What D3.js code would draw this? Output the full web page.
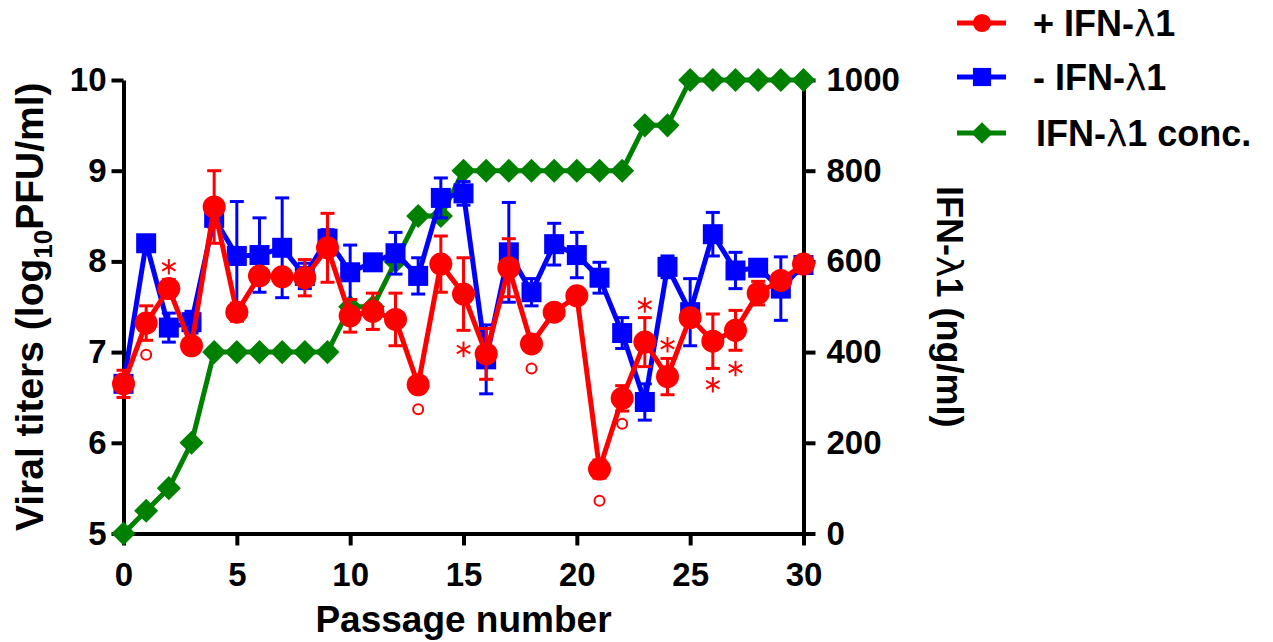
<!DOCTYPE html>
<html>
<head>
<meta charset="utf-8">
<script src="https://cdn.jsdelivr.net/npm/d3@7"></script>
<style>
  body { margin: 0; background: #fff; }
  svg { display: block; font-family: "Liberation Sans", Arial, sans-serif; }
</style>
</head>
<body>
<div id="chart"></div>
<script>
/* Viral titers over passages, with and without IFN-lambda1, plus IFN concentration */

const passages = d3.range(0, 31);

// + IFN-λ1 (log10 PFU/ml) and error
const plusIFN = [6.65, 7.32, 7.70, 7.07, 8.60, 7.44, 7.84, 7.83, 7.82, 8.15,
                 7.40, 7.45, 7.36, 6.64, 7.97, 7.64, 6.98, 7.93, 7.09, 7.44,
                 7.62, 5.71, 6.49, 7.11, 6.73, 7.38, 7.12, 7.24, 7.65, 7.79, 7.97];
const plusErr = [0.15, 0.19, 0.10, 0, 0.40, 0.10, 0, 0, 0.20, 0.38,
                 0.18, 0.20, 0.29, 0, 0.31, 0.40, 0.28, 0.32, 0, 0,
                 0, 0.10, 0.14, 0.27, 0.20, 0, 0.30, 0.22, 0.13, 0, 0];

// - IFN-λ1
const minusIFN = [6.65, 8.20, 7.27, 7.33, 8.48, 8.06, 8.07, 8.15, 7.84, 8.25,
                  7.88, 7.99, 8.09, 7.84, 8.70, 8.75, 6.92, 8.10, 7.66, 8.19,
                  8.07, 7.82, 7.21, 6.45, 7.94, 7.44, 8.30, 7.90, 7.93, 7.70, 7.96];
const minusErr = [0.05, 0.05, 0.16, 0.12, 0.10, 0.60, 0.41, 0.55, 0.14, 0.10,
                  0.30, 0, 0.23, 0.20, 0.22, 0.13, 0.38, 0.55, 0.15, 0.23,
                  0.25, 0.17, 0.17, 0.20, 0.12, 0.37, 0.24, 0.20, 0, 0.35, 0];

// IFN-λ1 concentration (ng/ml)
const conc = [0, 50, 100, 200, 400, 400, 400, 400, 400, 400,
              500, 500, 600, 700, 700, 800, 800, 800, 800, 800,
              800, 800, 800, 900, 900, 1000, 1000, 1000, 1000, 1000, 1000];

// significance marks: passage and titer level where drawn
const circlePassage = [1, 13, 18, 21, 22];
const circleLevel   = [6.97, 6.37, 6.82, 5.36, 6.21];
const starPassage   = [2, 15, 23, 24, 26, 27];
const starLevel     = [7.94, 7.03, 7.52, 7.08, 6.64, 6.82];

const leftTicks = [5, 6, 7, 8, 9, 10];
const rightTicks = [0, 200, 400, 600, 800, 1000];
const xTicks = [0, 5, 10, 15, 20, 25, 30];

const width = 1273, height = 642;
const margin = { top: 80, right: 469.5, bottom: 108.5, left: 123.5 };

const RED = "#ff0000", BLUE = "#0000ff", GREEN = "#008000";

const svg = d3.select("#chart")
  .append("svg")
  .attr("width", width)
  .attr("height", height)
  .attr("viewBox", [0, 0, width, height]);

const x = d3.scaleLinear().domain([0, 30]).range([margin.left, width - margin.right]);
const y = d3.scaleLinear().domain([5, 10]).range([height - margin.bottom, margin.top]);
const y2 = d3.scaleLinear().domain([0, 1000]).range([height - margin.bottom, margin.top]);

function styleAxis(g) {
  g.select(".domain").attr("stroke", "#000").attr("stroke-width", 4);
  g.selectAll(".tick line").attr("stroke", "#000").attr("stroke-width", 4);
  g.selectAll(".tick text")
    .attr("fill", "#000")
    .style("font-size", "33px")
    .style("font-weight", "bold");
}

const fmt = d3.format("d");

svg.append("g")
  .attr("transform", `translate(${margin.left},0)`)
  .call(d3.axisLeft(y).tickValues(leftTicks).tickFormat(fmt).tickSize(12).tickSizeOuter(0).tickPadding(5))
  .call(styleAxis);

svg.append("g")
  .attr("transform", `translate(${width - margin.right},0)`)
  .call(d3.axisRight(y2).tickValues(rightTicks).tickFormat(fmt).tickSize(12).tickSizeOuter(0).tickPadding(11))
  .call(styleAxis);

svg.append("g")
  .attr("transform", `translate(0,${height - margin.bottom})`)
  .call(d3.axisBottom(x).tickValues(xTicks).tickFormat(fmt).tickSize(12).tickSizeOuter(0).tickPadding(17))
  .call(styleAxis)
  .call(g => g.selectAll(".tick text").attr("dy", "0.71em"));

// axis titles
svg.append("text")
  .attr("x", (x(0) + x(30)) / 2)
  .attr("y", 632)
  .attr("text-anchor", "middle")
  .style("font-size", "37px")
  .style("font-weight", "bold")
  .text("Passage number");

const yl = svg.append("text")
  .attr("transform", `translate(43,${(y(5) + y(10)) / 2}) rotate(-90)`)
  .attr("text-anchor", "middle")
  .style("font-size", "39px")
  .style("font-weight", "bold");
yl.append("tspan").text("Viral titers (log");
yl.append("tspan").attr("dy", 9).style("font-size", "26px").text("10");
yl.append("tspan").attr("dy", -9).text("PFU/ml)");

// text with a lighter lambda glyph
function lambdaText(sel, str) {
  const parts = str.split("λ");
  parts.forEach((p, i) => {
    if (i > 0) sel.append("tspan")
      .style("font-family", "'DejaVu Sans', sans-serif")
      .style("font-weight", "normal")
      .text("λ");
    if (p) sel.append("tspan").text(p);
  });
}

const yr = svg.append("text")
  .attr("transform", `translate(937,${(y2(0) + y2(1000)) / 2}) rotate(90)`)
  .attr("text-anchor", "middle")
  .style("font-size", "36px")
  .style("font-weight", "bold");
lambdaText(yr, "IFN-λ1 (ng/ml)");

// series
const green = passages.map((p, i) => ({ p, v: conc[i] }));
const blue = passages.map((p, i) => ({ p, v: minusIFN[i], e: minusErr[i] }));
const red = passages.map((p, i) => ({ p, v: plusIFN[i], e: plusErr[i] }));

const line = (ys) => d3.line().x(d => x(d.p)).y(d => ys(d.v));

// green concentration
svg.append("path")
  .datum(green)
  .attr("fill", "none")
  .attr("stroke", GREEN)
  .attr("stroke-width", 5)
  .attr("d", line(y2));

svg.append("g").selectAll("path")
  .data(green)
  .join("path")
  .attr("transform", d => `translate(${x(d.p)},${y2(d.v)})`)
  .attr("d", d3.symbol(d3.symbolDiamond2, 370)())
  .attr("fill", GREEN);

function errorBars(data, color) {
  const g = svg.append("g")
    .attr("stroke", color)
    .attr("stroke-width", 3)
    .selectAll("g")
    .data(data.filter(d => d.e > 0))
    .join("g");
  g.append("line")
    .attr("x1", d => x(d.p)).attr("x2", d => x(d.p))
    .attr("y1", d => y(d.v - d.e)).attr("y2", d => y(d.v + d.e));
  for (const s of [-1, 1]) {
    g.append("line")
      .attr("x1", d => x(d.p) - 7).attr("x2", d => x(d.p) + 7)
      .attr("y1", d => y(d.v + s * d.e)).attr("y2", d => y(d.v + s * d.e));
  }
}

// blue (- IFN)
errorBars(blue, BLUE);
svg.append("path")
  .datum(blue)
  .attr("fill", "none")
  .attr("stroke", BLUE)
  .attr("stroke-width", 5)
  .attr("d", line(y));
svg.append("g").selectAll("rect")
  .data(blue)
  .join("rect")
  .attr("x", d => x(d.p) - 10)
  .attr("y", d => y(d.v) - 10)
  .attr("width", 20)
  .attr("height", 20)
  .attr("fill", BLUE);

// red (+ IFN)
errorBars(red, RED);
svg.append("path")
  .datum(red)
  .attr("fill", "none")
  .attr("stroke", RED)
  .attr("stroke-width", 5)
  .attr("d", line(y));
svg.append("g").selectAll("circle")
  .data(red)
  .join("circle")
  .attr("cx", d => x(d.p))
  .attr("cy", d => y(d.v))
  .attr("r", 11.5)
  .attr("fill", RED);

// significance marks
svg.append("g").selectAll("circle")
  .data(circlePassage.map((p, i) => ({ p, v: circleLevel[i] })))
  .join("circle")
  .attr("cx", d => x(d.p))
  .attr("cy", d => y(d.v))
  .attr("r", 5)
  .attr("fill", "none")
  .attr("stroke", RED)
  .attr("stroke-width", 2);

svg.append("g").selectAll("path")
  .data(starPassage.map((p, i) => ({ p, v: starLevel[i] })))
  .join("path")
  .attr("transform", d => `translate(${x(d.p)},${y(d.v)})`)
  .attr("d", d3.symbol(d3.symbolAsterisk, 170)())
  .attr("fill", "none")
  .attr("stroke", RED)
  .attr("stroke-width", 2);

// legend
const legendItems = [
  { label: "+ IFN-λ1", color: RED, shape: "circle", cy: 23 },
  { label: "- IFN-λ1", color: BLUE, shape: "square", cy: 77 },
  { label: "IFN-λ1 conc.", color: GREEN, shape: "diamond", cy: 133 }
];

const lg = svg.append("g").selectAll("g")
  .data(legendItems)
  .join("g")
  .attr("transform", d => `translate(0,${d.cy})`);

lg.append("line")
  .attr("x1", 957).attr("x2", 1006)
  .attr("stroke", d => d.color)
  .attr("stroke-width", 5);

lg.append("path")
  .attr("transform", "translate(982,0)")
  .attr("d", d => {
    const t = d.shape === "circle" ? d3.symbolCircle : d.shape === "square" ? d3.symbolSquare : d3.symbolDiamond2;
    const s = d.shape === "circle" ? 260 : d.shape === "square" ? 330 : 300;
    return d3.symbol(t, s)();
  })
  .attr("fill", d => d.color);

lg.each(function (d) {
  const t = d3.select(this).append("text")
    .attr("x", d.shape === "diamond" ? 1036 : 1033)
    .attr("y", 13)
    .style("font-size", "36px")
    .style("font-weight", "bold");
  lambdaText(t, d.label);
});
</script>
</body>
</html>
